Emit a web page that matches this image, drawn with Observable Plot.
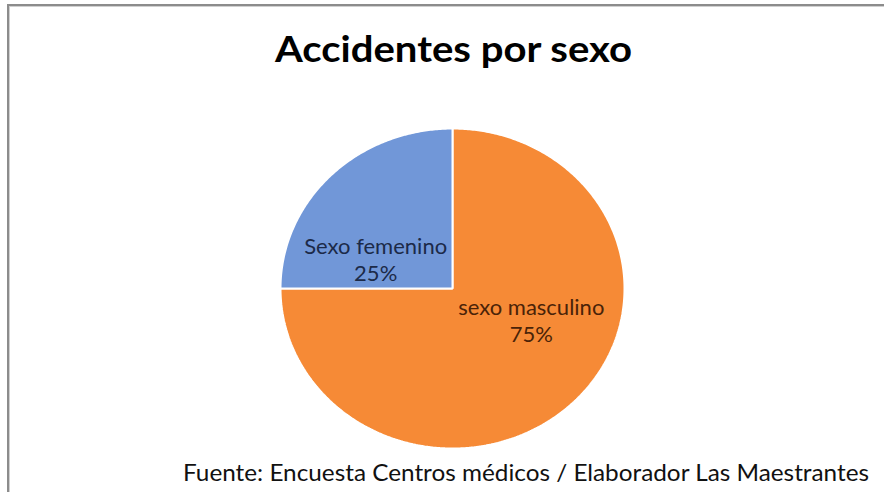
<!DOCTYPE html>
<html>
<head>
<meta charset="utf-8">
<script src="https://cdn.jsdelivr.net/npm/d3@7"></script>
<script src="https://cdn.jsdelivr.net/npm/@observablehq/plot@0.6"></script>
<style>
  html, body { margin: 0; padding: 0; background: #fff; }
  #wrap { position: relative; width: 884px; height: 492px; overflow: hidden; font-family: Lato, "Open Sans", sans-serif; }
  #frame { position: absolute; left: 7px; top: 4px; right: -10px; bottom: -10px;
           border-left: 2px solid #8c8c8c; border-top: 2px solid #8c8c8c;
           box-shadow: inset 1px 1px 0 #d0d0d0; }
  #chart { position: absolute; left: 0; top: 0; }
  .txt { position: absolute; white-space: nowrap; line-height: 1; color: #000; transform-origin: 0 0; }
  #title { font-weight: 700; }
  #caption { font-weight: 400; color: #111; }
</style>
</head>
<body>
<div id="wrap">
  <div id="frame"></div>
  <div id="chart"></div>
  <div id="title" class="txt">Accidentes por sexo</div>
  <div id="caption" class="txt">Fuente: Encuesta Centros médicos / Elaborador Las Maestrantes</div>
</div>
<script>
// ---- data ----
const categories = ["sexo masculino", "Sexo femenino"];
const values = [75, 25];
const percentLabels = ["75%", "25%"];
const sliceColors = ["#f68a36", "#7197d8"];
const labelColors = ["#4a2308", "#1c2a48"];

// ---- build slices ----
const pie = d3.pie().sort(null).value(d => d.value).startAngle(0).endAngle(2 * Math.PI);
const rows = categories.map((c, i) => ({category: c, value: values[i], pct: percentLabels[i]}));
const arcs = pie(rows);
const pts = [];
arcs.forEach(a => {
  pts.push({category: a.data.category, x: 0, y: 0});
  const n = Math.max(2, Math.ceil((a.endAngle - a.startAngle) / 0.01));
  for (let k = 0; k <= n; k++) {
    const t = a.startAngle + (a.endAngle - a.startAngle) * k / n;
    pts.push({category: a.data.category, x: Math.sin(t), y: Math.cos(t)});
  }
});
const labels = arcs.map(a => {
  const mid = (a.startAngle + a.endAngle) / 2;
  return {category: a.data.category, text: a.data.category + "\n" + a.data.pct,
          x: 0.5 * Math.sin(mid), y: 0.5 * Math.cos(mid)};
});

const chart = Plot.plot({
  width: 884,
  height: 492,
  margin: 0,
  style: {background: "transparent", fontFamily: "Lato, 'Open Sans', sans-serif"},
  x: {domain: [-1, 1], range: [280, 624], axis: null},
  y: {domain: [-1, 1], range: [448, 128], axis: null},
  color: {domain: categories, range: sliceColors},
  marks: [
    Plot.line(pts, {x: "x", y: "y", z: "category", fill: "category", stroke: "#ffffff",
                    strokeWidth: 2, curve: "linear-closed", strokeLinejoin: "miter"}),
    Plot.text(labels.filter(d => d.category === categories[1]), {
      x: "x", y: "y", text: "text", fontSize: 22, lineHeight: 1.2,
      fill: labelColors[1], dx: -16, dy: 27
    }),
    Plot.text(labels.filter(d => d.category === categories[0]), {
      x: "x", y: "y", text: "text", fontSize: 22, lineHeight: 1.2,
      fill: labelColors[0], dx: 18, dy: -25
    })
  ]
});
document.getElementById("chart").appendChild(chart);

// ---- place title & caption ----
function place(id, fontSize, left, right, baseline) {
  const el = document.getElementById(id);
  el.style.fontSize = fontSize + "px";
  const w = el.getBoundingClientRect().width;
  const s = (right - left) / w;
  el.style.left = left + "px";
  el.style.top = (baseline - 0.887 * fontSize) + "px";
  el.style.transform = `scaleX(${s})`;
}
place("title", 37, 275, 632, 62);
place("caption", 23, 183, 869, 481);
</script>
</body>
</html>
